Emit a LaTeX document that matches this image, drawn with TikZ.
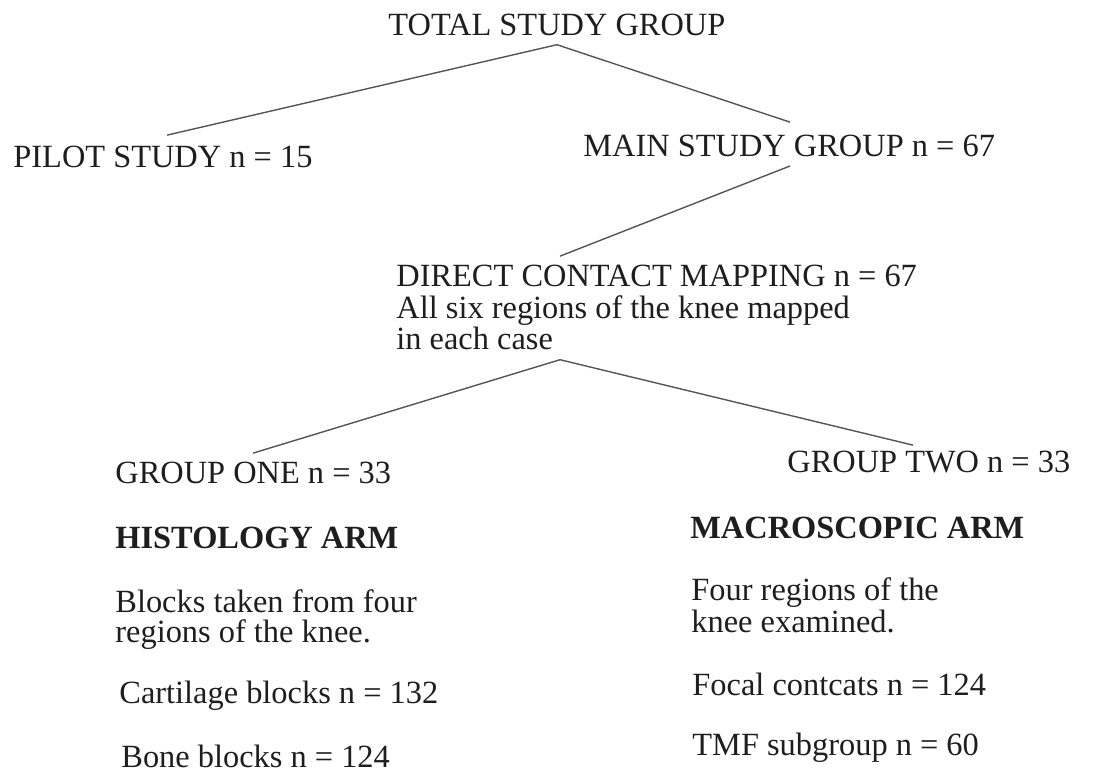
\documentclass[tikz,border=0pt]{standalone}
\usepackage{fontspec}
\setmainfont{Liberation Serif}
\usepackage{tikz}
\usetikzlibrary{calc}
\definecolor{scanink}{RGB}{30,30,30}
\definecolor{scanline}{RGB}{85,85,85}

\begin{document}
\begin{tikzpicture}[x=0.5pt, y=-0.5pt,
  txt/.style={anchor=base west, inner sep=0pt, align=left, text=scanink, font=\fontsize{16.2}{15.75}\selectfont},
  armhead/.style={txt, font=\fontsize{16.2}{15.75}\selectfont\bfseries},
  link/.style={draw=scanline, line width=0.7pt, line join=round}]
  \useasboundingbox (0,0) rectangle (1096,774);

  %% Top of the tree
  \node[txt] (total) at (388,36) {TOTAL STUDY GROUP};
  \node[txt] (pilot) at (13,168) {PILOT STUDY n = 15};
  \node[txt] (main) at (583,157) {MAIN STUDY GROUP n = 67};
  \draw[link] ([shift={(154,-11)}]pilot.north west) -- ([yshift=-4pt]total.south) -- ([shift={(207,-13)}]main.north west);

  %% Mapping step (base is the last line)
  \node[txt] (direct) at (396,350) {DIRECT CONTACT MAPPING n = 67\\All six regions of the knee mapped\\in each case};
  \draw[link] ([shift={(207,9)}]main.base west) -- ([shift={(164,-9)}]direct.north west);

  %% The two arms
  \node[txt] (one) at (115,483) {GROUP ONE n = 33};
  \node[txt] (two) at (787,473) {GROUP TWO n = 33};
  \draw[link] ([shift={(138,-8)}]one.north west) -- ([shift={(164,9)}]direct.south west) -- ([shift={(126,-6)}]two.north west);

  %% Histology arm
  \node[armhead] (histo) at (115,548) {HISTOLOGY ARM};
  \node[txt, font=\fontsize{16.2}{15}\selectfont] (hblocks) at (115,642) {Blocks taken from four\\regions of the knee.};
  \node[txt] (cart) at (119,703) {Cartilage blocks n = 132};
  \node[txt] (bone) at (121,767) {Bone blocks n = 124};

  %% Macroscopic arm
  \node[armhead] (macro) at (690,538) {MACROSCOPIC ARM};
  \node[txt, font=\fontsize{16.2}{16}\selectfont] (mregions) at (691,632) {Four regions of the\\knee examined.};
  \node[txt] (focal) at (692,695) {Focal contcats n = 124};
  \node[txt] (tmf) at (692,755) {TMF subgroup n = 60};
\end{tikzpicture}
\end{document}
